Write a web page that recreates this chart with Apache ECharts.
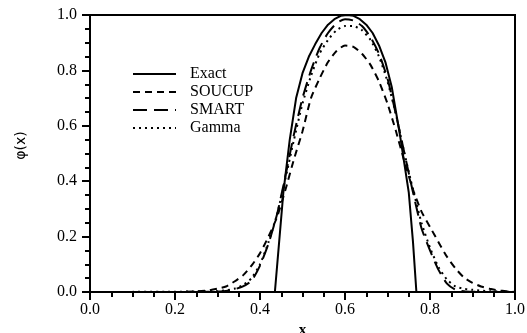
<!DOCTYPE html>
<html>
<head>
<meta charset="utf-8">
<script src="https://cdn.jsdelivr.net/npm/echarts@6/dist/echarts.min.js"></script>
<style>
  html, body { margin: 0; padding: 0; background: #fff; }
  #chart1 { width: 527px; height: 333px; }
</style>
</head>
<body>
<div id="chart1"></div>
<script>
  // exact profile
  var exactX = [0, 0.435, 0.445, 0.455, 0.47, 0.485, 0.50, 0.515, 0.53, 0.545, 0.56, 0.575, 0.59, 0.605, 0.62, 0.635, 0.65,
                0.665, 0.68, 0.695, 0.71, 0.73, 0.75, 0.76, 0.768, 1.0];
  var exactY = [0, 0, 0.18, 0.36, 0.55, 0.70, 0.79, 0.85, 0.895, 0.935, 0.965, 0.985, 0.997, 1.0, 0.997, 0.985, 0.965,
                0.935, 0.89, 0.83, 0.74, 0.56, 0.36, 0.18, 0, 0];

  // schemes on a shared x grid
  var xs = [0, 0.20, 0.25, 0.28, 0.30, 0.32, 0.34, 0.36, 0.38, 0.40, 0.42, 0.44, 0.46, 0.48, 0.50, 0.52, 0.54, 0.56, 0.58, 0.60,
            0.62, 0.64, 0.66, 0.68, 0.70, 0.72, 0.74, 0.76, 0.78, 0.80, 0.82, 0.84, 0.86, 0.88, 0.90, 0.92, 0.94, 0.96, 0.98, 1.0];
  var soucup = [0, 0, 0.002, 0.006, 0.012, 0.02, 0.038, 0.06, 0.095, 0.14, 0.2, 0.27, 0.37, 0.48, 0.58, 0.70, 0.77, 0.83, 0.87, 0.89,
                0.885, 0.86, 0.82, 0.76, 0.68, 0.58, 0.47, 0.37, 0.29, 0.235, 0.18, 0.127, 0.085, 0.052, 0.033, 0.02, 0.012, 0.006, 0.003, 0];
  var smart = [0, 0, 0, 0.001, 0.002, 0.004, 0.01, 0.02, 0.04, 0.095, 0.175, 0.28, 0.42, 0.57, 0.70, 0.80, 0.88, 0.935, 0.97, 0.985,
               0.98, 0.96, 0.92, 0.86, 0.77, 0.64, 0.50, 0.36, 0.23, 0.15, 0.08, 0.03, 0.008, 0.003, 0.001, 0, 0, 0, 0, 0];
  var gamma = [0, 0.001, 0.002, 0.002, 0.003, 0.006, 0.012, 0.025, 0.05, 0.10, 0.18, 0.28, 0.41, 0.55, 0.68, 0.78, 0.86, 0.91, 0.945, 0.96,
               0.96, 0.945, 0.91, 0.85, 0.76, 0.64, 0.50, 0.37, 0.25, 0.16, 0.09, 0.045, 0.02, 0.012, 0.008, 0.005, 0.003, 0.002, 0.001, 0];

  var xTicks = [0, 0.2, 0.4, 0.6, 0.8, 1.0];
  var yTicks = [0, 0.2, 0.4, 0.6, 0.8, 1.0];

  const zip = (a, b) => a.map((v, i) => [v, b[i]]);
  const serif = 'Liberation Serif';

  const drawChart = chartId => {
    let myChart = echarts.init(document.getElementById(chartId));
    let option;

    const lineSeries = (name, xData, yData, type, smooth) => ({
      name: name,
      type: 'line',
      data: zip(xData, yData),
      showSymbol: false,
      symbol: 'none',
      smooth: smooth,
      lineStyle: { color: '#000', width: 2, type: type },
      itemStyle: { color: '#000' }
    });

    option = {
      animation: false,
      backgroundColor: '#fff',
      grid: {
        left: 90,
        right: 12,
        top: 15,
        bottom: 41,
        outerBoundsMode: 'none',
        show: true,
        borderColor: '#000',
        borderWidth: 2
      },
      legend: {
        orient: 'vertical',
        left: 132,
        top: 66,
        padding: 0,
        itemWidth: 43,
        itemHeight: 8,
        itemGap: 2,
        itemStyle: { color: 'rgba(0,0,0,0)', borderColor: 'rgba(0,0,0,0)', borderWidth: 0 },
        textStyle: { fontFamily: serif, fontSize: 16, color: '#000', padding: [0, 0, 0, 9] },
        data: ['Exact', 'SOUCUP', 'SMART', 'Gamma']
      },
      xAxis: {
        type: 'value',
        min: 0,
        max: 1,
        interval: 0.2,
        name: 'x',
        nameLocation: 'middle',
        nameGap: 31,
        nameTextStyle: { fontFamily: serif, fontSize: 15, color: '#000', fontWeight: 'bold' },
        axisLine: { lineStyle: { color: '#000', width: 2 } },
        axisTick: { length: 8, lineStyle: { color: '#000', width: 2 } },
        minorTick: { show: true, splitNumber: 4, length: 5, lineStyle: { color: '#000', width: 2 } },
        splitLine: { show: false },
        axisLabel: {
          margin: 10,
          fontFamily: serif, fontSize: 16, color: '#000',
          formatter: v => xTicks.indexOf(v) >= 0 ? v.toFixed(1) : ''
        }
      },
      yAxis: {
        type: 'value',
        min: 0,
        max: 1,
        interval: 0.2,
        name: 'φ(x)',
        nameLocation: 'middle',
        nameGap: 62,
        nameTextStyle: { fontFamily: 'DejaVu Sans', fontSize: 14, color: '#000', padding: [0, 0, 0, 16] },
        axisLine: { show: true, lineStyle: { color: '#000', width: 2 } },
        axisTick: { show: true, length: 8, lineStyle: { color: '#000', width: 2 } },
        minorTick: { show: true, splitNumber: 4, length: 5, lineStyle: { color: '#000', width: 2 } },
        splitLine: { show: false },
        axisLabel: {
          margin: 13,
          fontFamily: serif, fontSize: 16, color: '#000',
          formatter: v => yTicks.indexOf(v) >= 0 ? v.toFixed(1) : ''
        }
      },
      series: [
        lineSeries('Exact', exactX, exactY, 'solid', false),
        lineSeries('SOUCUP', xs, soucup, [7, 5], 0.2),
        lineSeries('SMART', xs, smart, [14, 7], 0.2),
        lineSeries('Gamma', xs, gamma, [2, 4], 0.2)
      ]
    };

    option && myChart.setOption(option);
  };

  drawChart('chart1');
</script>
</body>
</html>
